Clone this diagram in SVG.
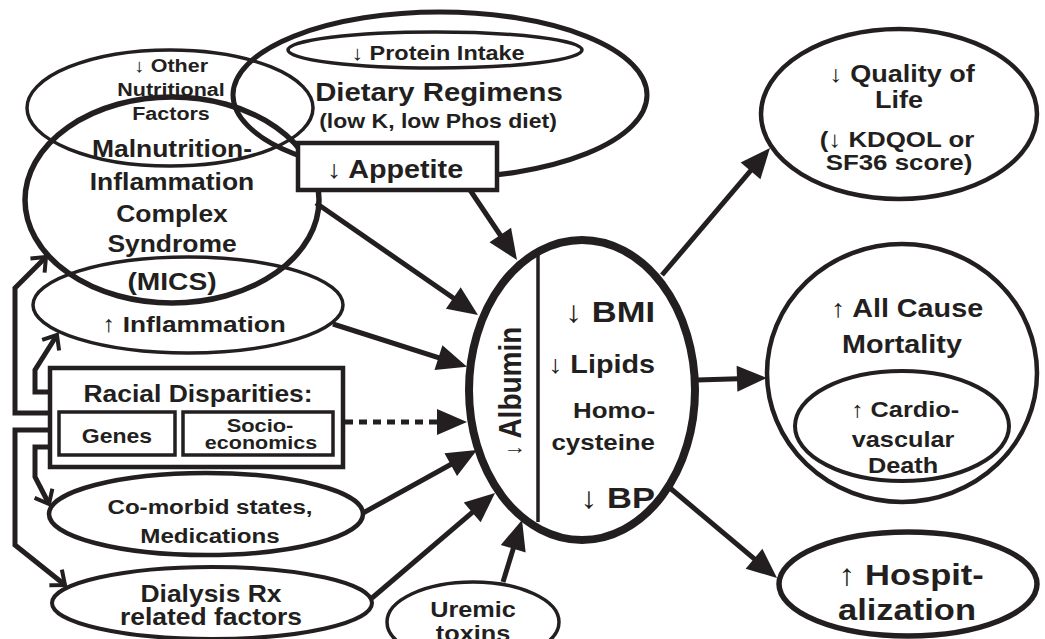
<svg xmlns="http://www.w3.org/2000/svg" width="1045" height="639" viewBox="0 0 1045 639">
<style>
text{font-family:"Liberation Sans",Arial,sans-serif;font-weight:bold;fill:#231f20}
.ar{font-weight:normal}
.el{fill:none;stroke:#231f20}
.wf{fill:#fff;stroke:#231f20}
.cn{fill:none;stroke:#231f20;stroke-width:5}
</style>
<defs>
<marker id="ah" markerUnits="userSpaceOnUse" markerWidth="32" markerHeight="28" refX="18" refY="13" orient="auto" viewBox="0 0 32 28" overflow="visible"><path d="M0,0 L30,13 L0,26 z" fill="#231f20"/></marker>
<marker id="ch" markerUnits="userSpaceOnUse" markerWidth="20" markerHeight="24" refX="14" refY="11" orient="auto" viewBox="0 0 20 24" overflow="visible"><path d="M2,1 L14,11 L2,21" fill="none" stroke="#231f20" stroke-width="4"/></marker>
</defs>
<rect width="1045" height="639" fill="#fff"/>

<g id="other-nutritional">
<ellipse class="el" cx="170" cy="108" rx="143" ry="58" stroke-width="3.5"/>
</g>
<g id="dietary">
<ellipse class="el" cx="440" cy="95" rx="207" ry="83" stroke-width="5"/>
<ellipse class="el" cx="435" cy="50" rx="147" ry="18" stroke-width="3.5"/>
</g>
<g id="mics">
<ellipse class="el" cx="172" cy="200" rx="147" ry="103" stroke-width="5.5"/>
</g>
<g id="inflammation">
<ellipse class="el" cx="188" cy="305" rx="155" ry="48" stroke-width="3.5"/>
</g>

<g id="connectors">
<path class="cn" d="M662,275 L762.2,157.1" marker-end="url(#ah)"/>
<path class="cn" d="M697,380 L755,378.3" marker-end="url(#ah)"/>
<path class="cn" d="M670,488 L767.8,570.3" marker-end="url(#ah)"/>
<path class="cn" d="M470,190 L510.3,250" marker-end="url(#ah)"/>
<path class="cn" d="M316,203 L468.1,308.2" marker-end="url(#ah)"/>
<path class="cn" d="M333,324 L455.6,363.2" marker-end="url(#ah)"/>
<path class="cn" d="M345,422 L455,422" stroke-width="6" stroke-dasharray="8 6" marker-end="url(#ah)"/>
<path class="cn" d="M363,513 L466.5,455.8" marker-end="url(#ah)"/>
<path class="cn" d="M372,598 L485.9,500.8" marker-end="url(#ah)"/>
<path class="cn" d="M503,582 L518.5,531.5" marker-end="url(#ah)"/>
<path class="cn" d="M50,413 H15 V288 L46,257" marker-end="url(#ch)"/>
<path class="cn" d="M50,392 H35 V370 L57,335" marker-end="url(#ch)"/>
<path class="cn" d="M50,430 H15 V545 L65,585" marker-end="url(#ch)"/>
<path class="cn" d="M50,447 H35 V477 L49,504" marker-end="url(#ch)"/>
</g>

<g id="appetite">
<rect class="wf" x="298" y="143" width="199" height="47" stroke-width="4.5"/>
<text transform="translate(395,178) scale(1.15,1)" text-anchor="middle" font-size="25"><tspan class="ar">↓</tspan> Appetite</text>
</g>

<g id="other-text">
<text transform="translate(171,72) scale(1.15,1)" text-anchor="middle" font-size="18.7"><tspan class="ar">↓</tspan> Other</text>
<text transform="translate(171,96) scale(1.15,1)" text-anchor="middle" font-size="18.7">Nutritional</text>
<text transform="translate(171,120) scale(1.15,1)" text-anchor="middle" font-size="18.7">Factors</text>
</g>
<g id="dietary-text">
<text transform="translate(438,60) scale(1.15,1)" text-anchor="middle" font-size="20.4"><tspan class="ar">↓</tspan> Protein Intake</text>
<text transform="translate(439,101) scale(1.15,1)" text-anchor="middle" font-size="25.5">Dietary Regimens</text>
<text transform="translate(438,128) scale(1.15,1)" text-anchor="middle" font-size="20">(low K, low Phos diet)</text>
</g>
<g id="mics-text">
<text transform="translate(172,157) scale(1.15,1)" text-anchor="middle" font-size="23">Malnutrition-</text>
<text transform="translate(172,190) scale(1.15,1)" text-anchor="middle" font-size="23">Inflammation</text>
<text transform="translate(172,222) scale(1.15,1)" text-anchor="middle" font-size="23">Complex</text>
<text transform="translate(172,252) scale(1.15,1)" text-anchor="middle" font-size="23">Syndrome</text>
<text transform="translate(172,290) scale(1.15,1)" text-anchor="middle" font-size="24.5">(MICS)</text>
</g>
<g id="inflammation-text">
<text transform="translate(194,332) scale(1.15,1)" text-anchor="middle" font-size="22.8"><tspan class="ar">↑</tspan>  Inflammation</text>
</g>

<g id="racial">
<rect class="wf" x="50" y="368" width="293" height="99" stroke-width="4.5"/>
<rect class="wf" x="59" y="412" width="116" height="43" stroke-width="3.5"/>
<rect class="wf" x="183" y="412" width="150" height="43" stroke-width="3.5"/>
<text transform="translate(198,402) scale(1.15,1)" text-anchor="middle" font-size="23">Racial Disparities:</text>
<text transform="translate(117,443) scale(1.15,1)" text-anchor="middle" font-size="20">Genes</text>
<text transform="translate(260,432) scale(1.15,1)" text-anchor="middle" font-size="19">Socio-</text>
<text transform="translate(261,449) scale(1.15,1)" text-anchor="middle" font-size="18.7">economics</text>
</g>

<g id="comorbid">
<ellipse class="wf" cx="206" cy="514" rx="157" ry="41" stroke-width="4.5"/>
<text transform="translate(210,514) scale(1.15,1)" text-anchor="middle" font-size="21">Co-morbid states,</text>
<text transform="translate(210,543) scale(1.15,1)" text-anchor="middle" font-size="21">Medications</text>
</g>
<g id="dialysis">
<ellipse class="wf" cx="212" cy="603" rx="160" ry="36" stroke-width="4"/>
<text transform="translate(211,602) scale(1.15,1)" text-anchor="middle" font-size="23">Dialysis Rx</text>
<text transform="translate(211,625) scale(1.15,1)" text-anchor="middle" font-size="23">related factors</text>
</g>
<g id="uremic">
<ellipse class="wf" cx="473" cy="622" rx="86" ry="40" stroke-width="3.5"/>
<text transform="translate(473,617) scale(1.15,1)" text-anchor="middle" font-size="22">Uremic</text>
<text transform="translate(473,641) scale(1.15,1)" text-anchor="middle" font-size="22">toxins</text>
</g>

<g id="central">
<ellipse class="wf" cx="582" cy="390" rx="113" ry="150" stroke-width="8"/>
<line x1="538" y1="253" x2="538" y2="522" stroke="#231f20" stroke-width="3.5"/>
<text transform="translate(521,391) rotate(-90) scale(1,1.15)" text-anchor="middle" font-size="28"><tspan class="ar" font-size="20">↓</tspan> Albumin</text>
<text transform="translate(655,322) scale(1.15,1)" text-anchor="end" font-size="30"><tspan class="ar">↓</tspan> BMI</text>
<text transform="translate(655,373) scale(1.15,1)" text-anchor="end" font-size="25"><tspan class="ar">↓</tspan> Lipids</text>
<text transform="translate(655,418) scale(1.15,1)" text-anchor="end" font-size="22.5">Homo-</text>
<text transform="translate(655,450) scale(1.15,1)" text-anchor="end" font-size="22.5">cysteine</text>
<text transform="translate(655,508) scale(1.15,1)" text-anchor="end" font-size="30"><tspan class="ar">↓</tspan> BP</text>
</g>

<g id="quality">
<ellipse class="wf" cx="899" cy="114" rx="138" ry="85" stroke-width="4.5"/>
<text transform="translate(902,82) scale(1.15,1)" text-anchor="middle" font-size="23.5"><tspan class="ar">↓</tspan> Quality of</text>
<text transform="translate(899,108) scale(1.15,1)" text-anchor="middle" font-size="23.5">Life</text>
<text transform="translate(897,147) scale(1.15,1)" text-anchor="middle" font-size="22.5">(<tspan class="ar">↓</tspan>  KDQOL or</text>
<text transform="translate(899,170) scale(1.15,1)" text-anchor="middle" font-size="22.5">SF36 score)</text>
</g>
<g id="mortality">
<ellipse class="wf" cx="902" cy="373" rx="135" ry="129" stroke-width="4.5"/>
<text transform="translate(907,317) scale(1.15,1)" text-anchor="middle" font-size="25"><tspan class="ar">↑</tspan> All Cause</text>
<text transform="translate(902,353) scale(1.15,1)" text-anchor="middle" font-size="25">Mortality</text>
<ellipse class="wf" cx="902" cy="426" rx="107" ry="55" stroke-width="4"/>
<text transform="translate(905,417) scale(1.15,1)" text-anchor="middle" font-size="22"><tspan class="ar">↑</tspan>  Cardio-</text>
<text transform="translate(903,447) scale(1.15,1)" text-anchor="middle" font-size="22">vascular</text>
<text transform="translate(903,473) scale(1.15,1)" text-anchor="middle" font-size="22">Death</text>
</g>
<g id="hospitalization">
<ellipse class="wf" cx="908" cy="584" rx="129" ry="52" stroke-width="5.5"/>
<text transform="translate(911,585) scale(1.15,1)" text-anchor="middle" font-size="30"><tspan class="ar">↑</tspan> Hospit-</text>
<text transform="translate(907,620) scale(1.15,1)" text-anchor="middle" font-size="30">alization</text>
</g>
</svg>
